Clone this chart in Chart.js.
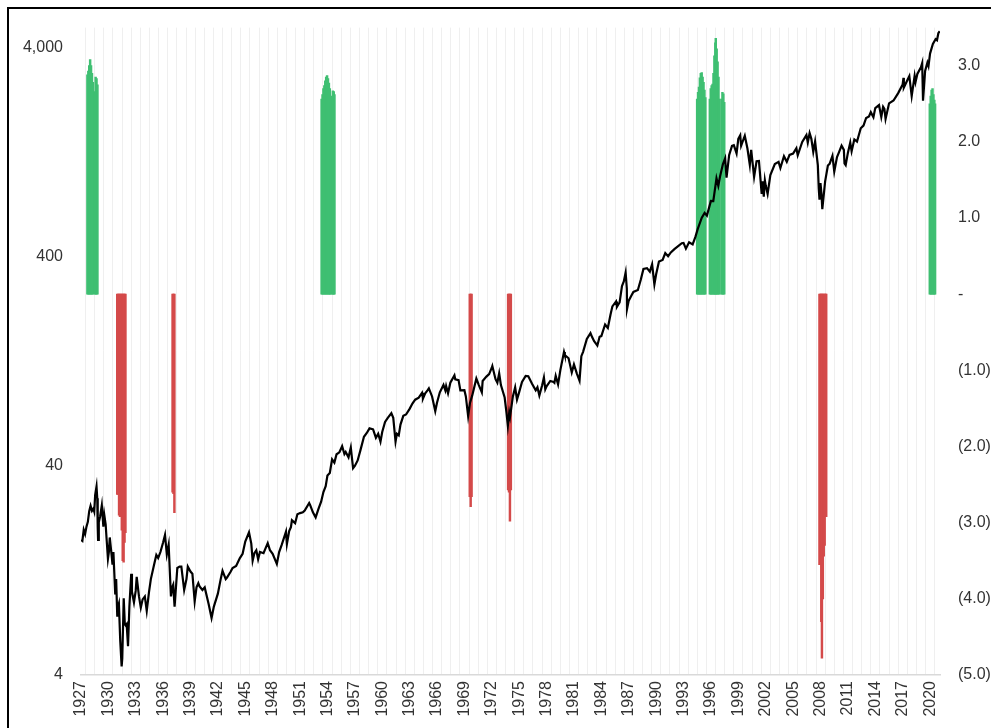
<!DOCTYPE html>
<html>
<head>
<meta charset="utf-8">
<script src="https://cdn.jsdelivr.net/npm/chart.js@4/dist/chart.umd.min.js"></script>
<style>
  html, body { margin: 0; padding: 0; background: #fff; overflow: hidden; }
  #wrap { position: absolute; left: 0; top: 0; width: 991px; height: 728px; }
  #frame { position: absolute; left: 7px; top: 7px; width: 1100px; height: 900px;
           border-left: 2px solid #000; border-top: 2px solid #000; pointer-events: none; }
</style>
</head>
<body>
<div id="wrap"><canvas id="chart"></canvas></div>
<div id="frame"></div>
<script>
// index level (left axis, log) - positions are in axis years
const lineX = [
  1927.00, 1927.15, 1927.30, 1927.45, 1927.60, 1927.75, 1927.90, 1928.05, 1928.20, 1928.35,
  1928.45, 1928.55, 1928.70, 1928.78, 1928.83, 1928.87, 1928.95, 1929.10, 1929.28, 1929.45,
  1929.55, 1929.70, 1929.80, 1929.95, 1930.05, 1930.15, 1930.35, 1930.45, 1930.55, 1930.75,
  1930.85, 1930.97, 1931.05, 1931.15, 1931.30, 1931.45, 1931.52, 1931.68, 1931.80, 1931.90,
  1932.00, 1932.15, 1932.30, 1932.50, 1932.58, 1932.80, 1932.99, 1933.10, 1933.35, 1933.55,
  1933.75, 1933.99, 1934.20, 1934.45, 1934.65, 1934.99, 1935.25, 1935.45, 1935.70, 1935.99,
  1936.20, 1936.40, 1936.60, 1936.85, 1936.99, 1937.10, 1937.25, 1937.55, 1937.80, 1937.99,
  1938.30, 1938.55, 1938.70, 1938.99, 1939.20, 1939.45, 1939.65, 1939.85, 1939.99, 1940.30,
  1940.55, 1940.99, 1941.30, 1941.55, 1941.99, 1942.30, 1942.50, 1942.85, 1942.99, 1943.40,
  1943.60, 1943.99, 1944.40, 1944.70, 1944.99, 1945.40, 1945.65, 1945.80, 1945.99, 1946.20,
  1946.40, 1946.60, 1946.99, 1947.45, 1947.70, 1947.99, 1948.45, 1948.70, 1948.99, 1949.45,
  1949.55, 1949.80, 1949.99, 1950.10, 1950.45, 1950.70, 1950.99, 1951.30, 1951.50, 1951.99,
  1952.10, 1952.40, 1952.70, 1952.99, 1953.30, 1953.55, 1953.80, 1953.99, 1954.25, 1954.50,
  1954.75, 1954.99, 1955.30, 1955.60, 1955.85, 1955.99, 1956.30, 1956.55, 1956.80, 1956.99,
  1957.30, 1957.60, 1957.99, 1958.30, 1958.60, 1958.99, 1959.30, 1959.55, 1959.80, 1959.99,
  1960.30, 1960.60, 1960.99, 1961.20, 1961.45, 1961.60, 1961.80, 1961.99, 1962.30, 1962.60,
  1962.99, 1963.30, 1963.60, 1963.99, 1964.35, 1964.45, 1964.70, 1964.99, 1965.10, 1965.45,
  1965.80, 1965.99, 1966.30, 1966.70, 1966.90, 1966.99, 1967.20, 1967.45, 1967.90, 1967.99,
  1968.35, 1968.55, 1968.99, 1969.15, 1969.40, 1969.60, 1969.85, 1969.99, 1970.30, 1970.55,
  1970.90, 1970.99, 1971.40, 1971.70, 1971.99, 1972.05, 1972.40, 1972.60, 1972.80, 1972.99,
  1973.40, 1973.60, 1973.75, 1973.90, 1973.99, 1974.30, 1974.55, 1974.75, 1974.99, 1975.30,
  1975.70, 1975.99, 1976.40, 1976.80, 1976.99, 1977.20, 1977.50, 1977.70, 1977.85, 1977.99,
  1978.40, 1978.75, 1978.85, 1978.99, 1979.25, 1979.50, 1979.90, 1979.99, 1980.40, 1980.75,
  1980.99, 1981.30, 1981.60, 1981.80, 1981.99, 1982.40, 1982.80, 1982.99, 1983.20, 1983.55,
  1983.80, 1983.99, 1984.40, 1984.70, 1984.99, 1985.20, 1985.60, 1985.70, 1985.99, 1986.25,
  1986.45, 1986.65, 1986.78, 1986.80, 1986.99, 1987.30, 1987.50, 1987.99, 1988.30, 1988.60,
  1988.99, 1989.30, 1989.55, 1989.80, 1989.99, 1990.30, 1990.70, 1990.99, 1991.30, 1991.60,
  1991.99, 1992.40, 1992.80, 1992.99, 1993.25, 1993.60, 1993.99, 1994.30, 1994.55, 1994.99,
  1995.30, 1995.55, 1995.99, 1996.25, 1996.60, 1996.80, 1996.99, 1997.30, 1997.55, 1997.70,
  1997.99, 1998.30, 1998.50, 1998.80, 1998.99, 1999.20, 1999.30, 1999.70, 1999.99, 2000.25,
  2000.40, 2000.72, 2000.99, 2001.25, 2001.55, 2001.65, 2001.78, 2001.90, 2001.99, 2002.20,
  2002.50, 2002.99, 2003.40, 2003.60, 2003.99, 2004.30, 2004.60, 2004.99, 2005.35, 2005.50,
  2005.99, 2006.45, 2006.60, 2006.80, 2006.99, 2007.20, 2007.40, 2007.70, 2007.80, 2007.88,
  2007.99, 2008.10, 2008.19, 2008.50, 2008.80, 2008.99, 2009.30, 2009.50, 2009.80, 2009.99,
  2010.30, 2010.55, 2010.62, 2010.75, 2010.99, 2011.25, 2011.40, 2011.70, 2011.99, 2012.40,
  2012.70, 2012.99, 2013.30, 2013.50, 2013.79, 2013.99, 2014.40, 2014.65, 2014.85, 2014.99,
  2015.12, 2015.50, 2015.99, 2016.50, 2016.99, 2017.08, 2017.12, 2017.50, 2017.72, 2017.98,
  2018.30, 2018.40, 2018.60, 2018.99, 2019.13, 2019.22, 2019.45, 2019.70, 2019.82, 2019.99,
  2020.30, 2020.60, 2020.75, 2020.90, 2020.99, 2021.01
];
const lineV = [
  17.7, 17.5, 19.8, 18.9, 20.5, 21.6, 24.3, 25.8, 24.4, 25.0,
  24.2, 29.0, 31.9, 28.0, 20.4, 17.7, 21.5, 23.0, 25.9, 20.5,
  23.3, 21.0, 18.0, 14.4, 15.5, 18.2, 15.0, 13.5, 15.5, 9.7,
  11.5, 7.7, 8.5, 8.8, 5.8, 4.4, 4.8, 9.3, 7.0, 6.9,
  7.0, 5.5, 8.5, 12.2, 10.0, 8.9, 10.1, 11.8, 9.5, 8.4,
  9.2, 9.5, 8.1, 10.0, 11.5, 13.4, 15.0, 14.5, 15.5, 17.2,
  18.7, 15.1, 16.8, 9.5, 10.5, 10.8, 8.5, 13.0, 13.2, 13.2,
  10.2, 11.5, 13.2, 12.5, 12.2, 9.0, 10.5, 11.0, 10.6, 10.2,
  10.5, 8.7, 7.5, 8.5, 9.8, 11.5, 12.6, 11.5, 11.7, 12.5,
  13.0, 13.3, 14.5, 15.2, 17.4, 19.25, 17.0, 14.1, 15.3, 15.8,
  14.3, 15.5, 15.3, 17.1, 15.8, 15.2, 13.6, 15.5, 16.8, 19.4,
  16.9, 19.5, 20.4, 22.0, 21.3, 23.5, 23.8, 24.0, 24.5, 26.6,
  26.0, 24.0, 22.7, 24.8, 27.0, 30.0, 32.0, 36.0, 37.0, 43.0,
  41.5, 45.5, 46.5, 49.7, 45.6, 46.7, 44.0, 49.0, 39.0, 40.0,
  42.5, 47.5, 55.2, 57.5, 60.5, 59.9, 54.5, 57.0, 52.3, 58.1,
  65.0, 68.0, 71.6, 68.0, 52.3, 57.0, 56.0, 63.1, 69.5, 70.5,
  75.0, 79.5, 83.0, 84.8, 89.5, 84.0, 89.0, 92.4, 94.0, 86.0,
  73.2, 80.3, 90.0, 97.6, 92.0, 96.5, 89.0, 100.0, 108.4, 103.9,
  103.0, 92.0, 92.1, 86.0, 69.3, 80.0, 87.0, 92.2, 104.8, 98.0,
  90.0, 102.0, 107.0, 110.0, 118.0, 120.2, 104.0, 100.0, 111.0, 97.5,
  85.0, 72.0, 62.3, 72.0, 68.6, 86.0, 95.0, 83.0, 90.2, 101.0,
  107.8, 107.5, 99.0, 92.0, 95.1, 86.9, 97.0, 106.0, 93.0, 96.1,
  102.0, 101.0, 100.0, 107.9, 98.2, 115.0, 140.5, 135.8, 131.0, 112.0,
  122.5, 111.0, 102.4, 134.0, 140.6, 162.0, 172.6, 164.9, 158.0, 150.7,
  166.0, 167.2, 190.0, 183.0, 211.3, 232.0, 245.0, 231.0, 242.2, 290.0,
  305.0, 336.8, 282.0, 224.8, 247.1, 262.0, 272.0, 277.7, 310.0, 350.0,
  353.4, 340.0, 368.9, 295.5, 330.2, 380.0, 387.0, 417.1, 403.0, 420.0,
  435.7, 450.0, 465.0, 466.5, 438.0, 470.0, 459.3, 500.0, 545.0, 615.9,
  650.0, 630.0, 740.7, 740.0, 950.0, 876.0, 970.4, 1110, 1186, 957,
  1229, 1360, 1370, 1250, 1469, 1527, 1360, 1520, 1320, 1103,
  1300, 965, 1148, 1150, 800, 920, 777, 930, 880, 800,
  985, 1112, 1140, 1065, 1212, 1140, 1230, 1248, 1325, 1225,
  1418, 1530, 1410, 1565, 1468, 1273, 1425, 1100, 850, 752,
  903, 800, 677, 920, 1095, 1115, 1217, 1022, 1200, 1258,
  1363, 1300, 1120, 1099, 1258, 1410, 1280, 1460, 1426, 1650,
  1700, 1848, 1880, 1970, 1862, 2059, 2130, 1867, 2090, 2044,
  1829, 2170, 2239, 2430, 2674, 2873, 2581, 2800, 2930, 2351,
  2940, 2745, 3000, 3231, 3386, 2237, 3100, 3400, 3270, 3756,
  4180, 4400, 4350, 4700, 4766, 4797
];

// signal bars (right axis)
const greenX = [
  1927.80, 1927.90, 1928.00, 1928.10, 1928.20, 1928.30, 1928.40,
  1928.60, 1928.70, 1928.80, 1928.90,
  1953.45, 1953.55, 1953.65, 1953.75, 1953.85, 1953.95, 1954.05, 1954.15, 1954.25, 1954.35, 1954.42,
  1954.58, 1954.68, 1954.78, 1954.86,
  1994.58, 1994.68, 1994.78, 1994.88, 1994.98, 1995.08, 1995.18, 1995.28, 1995.38, 1995.48,
  1995.97, 1996.07, 1996.17, 1996.27, 1996.37, 1996.47, 1996.57, 1996.62, 1996.72, 1996.82, 1996.92, 1997.02,
  1997.25, 1997.35, 1997.45, 1997.55,
  2020.06, 2020.16, 2020.26, 2020.36, 2020.46, 2020.56, 2020.64
];
const greenV = [
  2.88, 2.93, 3.0, 3.08, 3.0, 2.9, 2.78,
  2.66, 2.85, 2.83, 2.75,
  2.56, 2.62, 2.7, 2.74, 2.8, 2.85, 2.87, 2.83, 2.77, 2.7, 2.52,
  2.6, 2.67, 2.66, 2.62,
  2.56, 2.65, 2.72, 2.84, 2.9, 2.91, 2.85, 2.78, 2.68, 2.58,
  2.56, 2.7, 2.74, 2.76, 2.9, 3.13, 3.3, 3.36, 3.22, 3.05, 2.85, 2.56,
  2.56, 2.65, 2.63, 2.52,
  2.5, 2.6, 2.68, 2.7, 2.62, 2.55, 2.5
];
const redX = [
  1930.87, 1930.97, 1931.07, 1931.17, 1931.27, 1931.37, 1931.47, 1931.57, 1931.67, 1931.77,
  1936.93, 1937.03, 1937.13,
  1969.48, 1969.58, 1969.68,
  1973.68, 1973.78, 1973.88, 1973.98,
  2007.78, 2007.88, 2007.98, 2008.05, 2008.15, 2008.25, 2008.35, 2008.45, 2008.52
];
const redV = [
  -2.63, -2.63, -2.9, -2.92, -2.66, -3.1, -3.5, -3.52, -3.26, -3.13,
  -2.6, -2.62, -2.87,
  -2.66, -2.79, -2.66,
  -2.57, -2.6, -2.98, -2.57,
  -3.55, -3.55, -4.3, -4.78, -4.0, -3.44, -3.3, -2.92, -2.92
];

// axis ticks
const yearTicks = [];
for (let y = 1927; y <= 2021; y++) yearTicks.push(y);
const leftTicks = [4, 40, 400, 4000];
const rightTicks = [-5, -4, -3, -2, -1, 0, 1, 2, 3];

const pts = (xs, vs) => xs.map((x, i) => ({ x: x, y: vs[i] }));

Chart.defaults.font.family = "'Liberation Sans', Arial, sans-serif";
Chart.defaults.font.size = 16;
Chart.defaults.color = '#333';

new Chart(document.getElementById('chart'), {
  type: 'bar',
  data: {
    datasets: [
      {
        type: 'line',
        data: pts(lineX, lineV),
        yAxisID: 'y',
        borderColor: '#000',
        borderWidth: 2.2,
        pointRadius: 0,
        tension: 0,
        order: 0
      },
      {
        data: pts(greenX, greenV),
        yAxisID: 'y1',
        backgroundColor: '#3fbf72',
        barThickness: 1.8,
        borderWidth: 0,
        order: 1
      },
      {
        data: pts(redX, redV),
        yAxisID: 'y1',
        backgroundColor: '#d44a4a',
        barThickness: 1.8,
        borderWidth: 0,
        order: 1
      }
    ]
  },
  options: {
    responsive: true,
    maintainAspectRatio: false,
    animation: false,
    layout: { padding: { top: 25, left: 0, right: 0, bottom: 0 } },
    plugins: { legend: { display: false }, tooltip: { enabled: false } },
    scales: {
      x: {
        type: 'linear',
        offset: false,
        min: 1927,
        max: 2021.08,
        afterBuildTicks: s => { s.ticks = yearTicks.map(v => ({ value: v })); },
        afterFit: s => { s.height = 53; },
        grid: { color: '#efefef', lineWidth: 1, drawTicks: false },
        border: { color: '#d9d9d9', width: 1.5 },
        ticks: {
          autoSkip: false,
          maxRotation: 90,
          minRotation: 90,
          padding: 6,
          callback: v => ((v - 1927) % 3 === 0 ? String(v) : '')
        }
      },
      y: {
        type: 'logarithmic',
        position: 'left',
        min: 4,
        max: 5000,
        afterBuildTicks: s => { s.ticks = leftTicks.map(v => ({ value: v })); },
        afterFit: s => { s.width = 81; },
        grid: { display: false, drawTicks: false },
        border: { display: false },
        ticks: { padding: 18, callback: v => Number(v).toLocaleString('en-US') }
      },
      y1: {
        type: 'linear',
        position: 'right',
        min: -5,
        max: 3.5,
        afterBuildTicks: s => { s.ticks = rightTicks.map(v => ({ value: v })); },
        afterFit: s => { s.width = 51; },
        grid: { display: false, drawTicks: false },
        border: { display: false },
        ticks: {
          padding: 18,
          callback: v => v === 0 ? '-' : (v < 0 ? '(' + Math.abs(v).toFixed(1) + ')' : v.toFixed(1))
        }
      }
    }
  }
});
</script>
</body>
</html>
